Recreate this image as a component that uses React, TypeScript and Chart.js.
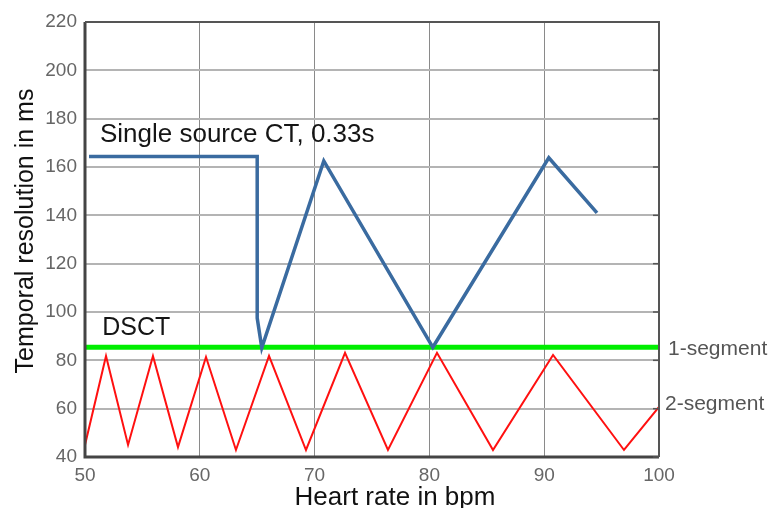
import React, { useEffect, useRef } from "react";
import { Chart, registerables } from "chart.js";

Chart.register(...registerables);

const xTicks = [50, 60, 70, 80, 90, 100];
const yTicks = [40, 60, 80, 100, 120, 140, 160, 180, 200, 220];

// Single source CT, 0.33s (blue)
const singleX = [50.35, 65.0, 65.0, 65.4, 70.8, 80.3, 90.4, 94.6];
const singleY = [164.3, 164.3, 97.5, 85.2, 162.5, 85.4, 163.8, 141.0];

// DSCT 1-segment (green)
const dsct1X = [50, 100];
const dsct1Y = [85.4, 85.4];

// DSCT 2-segment (red)
const dsct2X = [50, 51.83, 53.75, 55.92, 58.1, 60.54, 63.15, 66.03, 69.25, 72.65, 76.39, 80.66, 85.54, 90.77, 96.95, 100];
const dsct2Y = [45, 81.8, 45, 81.8, 44.1, 81.4, 42.9, 81.8, 42.9, 83.1, 42.9, 83.1, 42.9, 82.2, 42.9, 60.7];

const FONT = "'Liberation Sans', Arial, sans-serif";

const toPts = (xs: number[], ys: number[]) => xs.map((x, i) => ({ x, y: ys[i] }));

const decorPlugin = {
  id: "decor",
  afterDatasetsDraw(chart: any) {
    const { ctx, chartArea: a, scales } = chart;
    const xs = scales.x;
    const ys = scales.y;
    ctx.save();
    // frame
    ctx.strokeStyle = "#444";
    ctx.lineWidth = 3;
    ctx.beginPath();
    ctx.moveTo(a.left, a.top);
    ctx.lineTo(a.left, a.bottom);
    ctx.lineTo(a.right, a.bottom);
    ctx.stroke();
    ctx.lineWidth = 2;
    ctx.strokeStyle = "#555";
    ctx.beginPath();
    ctx.moveTo(a.left, a.top);
    ctx.lineTo(a.right, a.top);
    ctx.lineTo(a.right, a.bottom);
    ctx.stroke();
    // inward ticks on right border
    ctx.lineWidth = 1.5;
    yTicks.forEach((v) => {
      const py = ys.getPixelForValue(v);
      ctx.beginPath();
      ctx.moveTo(a.right - 6, py);
      ctx.lineTo(a.right, py);
      ctx.stroke();
    });

    // annotations
    ctx.textAlign = "left";
    ctx.textBaseline = "alphabetic";
    ctx.fillStyle = "#151515";
    ctx.font = `26px ${FONT}`;
    ctx.fillText("Single source CT, 0.33s", xs.getPixelForValue(51.3), ys.getPixelForValue(170.4));
    ctx.font = `25px ${FONT}`;
    ctx.fillText("DSCT", xs.getPixelForValue(51.5), ys.getPixelForValue(90.5));
    ctx.fillStyle = "#555";
    ctx.font = `21px ${FONT}`;
    ctx.fillText("1-segment", a.right + 9, ys.getPixelForValue(82.2));
    ctx.fillText("2-segment", a.right + 6, ys.getPixelForValue(59.5));

    // axis titles
    ctx.fillStyle = "#111";
    ctx.font = `26px ${FONT}`;
    ctx.textAlign = "center";
    ctx.fillText("Heart rate in bpm", 395, 505);
    ctx.translate(33, 231);
    ctx.rotate(-Math.PI / 2);
    ctx.font = `25px ${FONT}`;
    ctx.fillText("Temporal resolution in ms", 0, 0);
    ctx.restore();
  },
};

export default function App() {
  const ref = useRef<HTMLCanvasElement>(null);
  useEffect(() => {
    if (!ref.current) return;
    const chart = new Chart(ref.current, {
      type: "line",
      data: {
        datasets: [
          {
            label: "DSCT 2-segment",
            data: toPts(dsct2X, dsct2Y),
            borderColor: "#ff1010",
            borderWidth: 2,
            pointRadius: 0,
            tension: 0,
          },
          {
            label: "Single source CT, 0.33s",
            data: toPts(singleX, singleY),
            borderColor: "#3a6ba0",
            borderWidth: 3.5,
            pointRadius: 0,
            tension: 0,
          },
          {
            label: "DSCT 1-segment",
            data: toPts(dsct1X, dsct1Y),
            borderColor: "#00ee00",
            borderWidth: 5,
            pointRadius: 0,
            tension: 0,
          },
        ],
      },
      options: {
        responsive: false,
        animation: false,
        layout: { padding: { top: 22, right: 114, left: 0, bottom: 0 } },
        plugins: { legend: { display: false }, tooltip: { enabled: false } },
        scales: {
          x: {
            type: "linear",
            min: 50,
            max: 100,
            afterBuildTicks: (s: any) => {
              s.ticks = xTicks.map((v) => ({ value: v }));
            },
            afterFit: (s: any) => {
              s.height = 51;
            },
            grid: { color: "#8a8a8a", lineWidth: 1, drawTicks: false },
            border: { display: false },
            ticks: {
              color: "#666",
              padding: 7,
              font: { family: FONT, size: 19 },
              maxRotation: 0,
            },
          },
          y: {
            type: "linear",
            min: 40,
            max: 220,
            afterBuildTicks: (s: any) => {
              s.ticks = yTicks.map((v) => ({ value: v }));
            },
            afterFit: (s: any) => {
              s.width = 85;
            },
            grid: { color: "#b4b4b4", lineWidth: 2, drawTicks: false },
            border: { display: false },
            ticks: {
              color: "#666",
              padding: 8,
              font: { family: FONT, size: 19 },
            },
          },
        },
      },
      plugins: [decorPlugin],
    });
    return () => chart.destroy();
  }, []);
  return (
    <div style={{ position: "absolute", left: 0, top: 0, width: 773, height: 508, background: "#fff" }}>
      <canvas ref={ref} width={773} height={508} />
    </div>
  );
}
